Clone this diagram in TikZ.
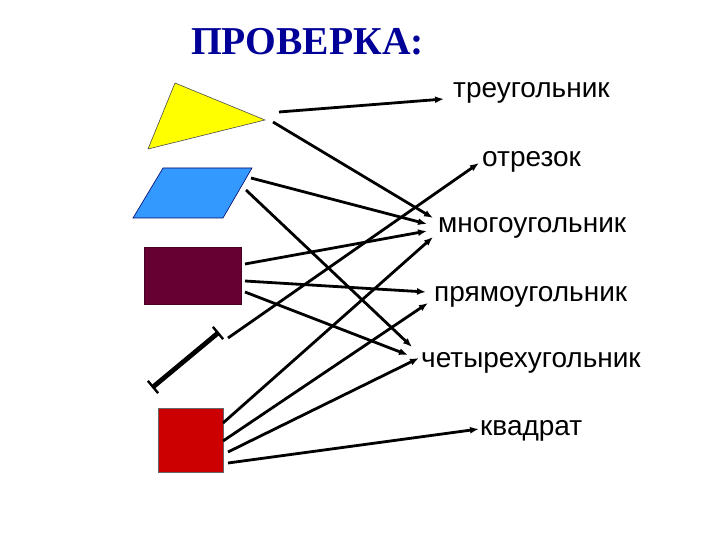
\documentclass[tikz,border=0pt]{standalone}
\usepackage{fontspec}
\setmainfont{Liberation Sans}
\newfontfamily\titlefont{Liberation Serif}
\usetikzlibrary{arrows.meta,calc}
\definecolor{titleblue}{RGB}{0,0,153}
\definecolor{triyellow}{RGB}{255,255,0}
\definecolor{parblue}{RGB}{51,153,255}
\definecolor{maroon}{RGB}{102,0,51}
\definecolor{sqred}{RGB}{204,0,0}
\tikzset{
  conn/.style={line width=2.8pt,-{Latex[length=9pt,width=7pt]}},
  lbl/.style={anchor=base west,inner sep=0pt,font=\fontsize{28}{32}\selectfont},
  shapeline/.style={line width=0.6pt}
}
\begin{document}
\begin{tikzpicture}[x=1pt,y=-1pt]
\useasboundingbox (0,0) rectangle (720,540);
% title
\node[anchor=base west,inner sep=0pt,text=titleblue,font=\titlefont\bfseries\fontsize{39.5}{44}\selectfont] (title) at (191,55) {ПРОВЕРКА:};
% shapes
\draw[shapeline,fill=triyellow,draw=black!70] (175,83) -- (265,120) -- (148,149) -- cycle;
\draw[shapeline,fill=parblue,draw=blue!40!black] (163,168) -- (252,168) -- (223,218) -- (133,218) -- cycle;
\draw[shapeline,fill=maroon,draw=maroon!70!black] (144,247) rectangle (241,304);
\draw[shapeline,fill=sqred,draw=black!60] (158,408) rectangle (223,472);
% segment
\coordinate (sa) at (153,387);
\coordinate (sb) at (218,333);
\draw[line width=4.8pt] (sa) -- (sb);
\draw[line width=2.4pt] ($(sa)!8pt!90:(sb)$) -- ($(sa)!8pt!-90:(sb)$);
\draw[line width=2.4pt] ($(sb)!8pt!90:(sa)$) -- ($(sb)!8pt!-90:(sa)$);
% labels
\node[lbl] (l1) at (453,98) {треугольник};
\node[lbl] (l2) at (482,167) {отрезок};
\node[lbl] (l3) at (438,233) {многоугольник};
\node[lbl] (l4) at (434,301) {прямоугольник};
\node[lbl] (l5) at (421,367) {четырехугольник};
\node[lbl] (l6) at (480,435) {квадрат};
% start points
\coordinate (t1) at (279,112);
\coordinate (t2) at (273,122);
\coordinate (p1) at (251,178);
\coordinate (p2) at (246,190);
\coordinate (m1) at (245,264);
\coordinate (m2) at (245,281);
\coordinate (m3) at (245,292);
\coordinate (s1) at (228,338);
\coordinate (r1) at (223,423);
\coordinate (r2) at (223,441);
\coordinate (r3) at (228,452);
\coordinate (r4) at (228,463);
% end points
\coordinate (e1) at (444,99);
\coordinate (e3a) at (433,218);
\coordinate (e3b) at (427,224);
\coordinate (e3c) at (427,231);
\coordinate (e3d) at (433,237);
\coordinate (e2) at (479,163);
\coordinate (e4a) at (426,292);
\coordinate (e4b) at (428,303);
\coordinate (e5a) at (412,347);
\coordinate (e5b) at (408,355);
\coordinate (e5c) at (419,358);
\coordinate (e6) at (479,429);
% connectors
\draw[conn] (t1) -- (e1);
\draw[conn] (t2) -- (e3a);
\draw[conn] (p1) -- (e3b);
\draw[conn] (p2) -- (e5a);
\draw[conn] (m1) -- (e3c);
\draw[conn] (m2) -- (e4a);
\draw[conn] (m3) -- (e5b);
\draw[conn] (s1) -- (e2);
\draw[conn] (r1) -- (e3d);
\draw[conn] (r2) -- (e4b);
\draw[conn] (r3) -- (e5c);
\draw[conn] (r4) -- (e6);
\end{tikzpicture}
\end{document}
